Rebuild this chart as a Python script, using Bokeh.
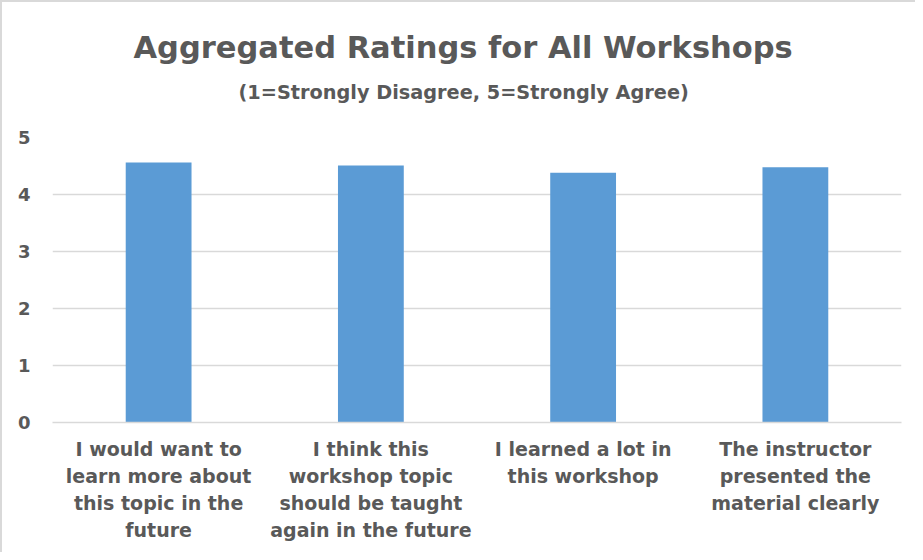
from bokeh.plotting import figure
from bokeh.models import ColumnDataSource, FactorRange, Title, FixedTicker
from bokeh.embed import file_html
from bokeh.resources import INLINE

categories = [
    "I would want to\nlearn more about\nthis topic in the\nfuture",
    "I think this\nworkshop topic\nshould be taught\nagain in the future",
    "I learned a lot in\nthis workshop",
    "The instructor\npresented the\nmaterial clearly",
]
ratings = [4.56, 4.51, 4.38, 4.48]
y_ticks = [0, 1, 2, 3, 4, 5]

title_text = "Aggregated Ratings for All Workshops"
subtitle_text = "(1=Strongly Disagree, 5=Strongly Agree)"

TXT = "#595959"
FONT = "DejaVu Sans"

src = ColumnDataSource(dict(cat=categories, val=ratings))

p = figure(
    width=915, height=552,
    x_range=FactorRange(*categories, range_padding=0, factor_padding=0),
    y_range=(0, 5),
    output_backend="svg", toolbar_location=None,
    min_border_left=50, min_border_right=16,
    min_border_top=135, min_border_bottom=132,
)
p.title = None
p.vbar(x="cat", top="val", width=0.31, source=src, color="#5B9BD5", line_color=None)

p.outline_line_color = None
p.xgrid.grid_line_color = None
p.ygrid.grid_line_color = "#D9D9D9"
p.ygrid.grid_line_width = 1.3
p.yaxis.ticker = FixedTicker(ticks=y_ticks)
p.yaxis.axis_line_color = None
p.yaxis.major_tick_line_color = None
p.yaxis.minor_tick_line_color = None
p.yaxis.major_label_standoff = 16
p.yaxis.major_label_text_font = FONT
p.yaxis.major_label_text_font_style = "bold"
p.yaxis.major_label_text_font_size = "18px"
p.yaxis.major_label_text_color = TXT

p.xaxis.axis_line_color = "#D9D9D9"
p.xaxis.axis_line_width = 1.3
p.xaxis.major_tick_line_color = None
p.xaxis.minor_tick_line_color = None
p.xaxis.major_label_standoff = 9
p.xaxis.major_label_text_font = FONT
p.xaxis.major_label_text_font_style = "bold"
p.xaxis.major_label_text_font_size = "19px"
p.xaxis.major_label_text_color = TXT
p.xaxis.major_label_text_line_height = 1.24

# spacer between the plot area and the subtitle
p.add_layout(Title(text=" ", standoff=31, text_font_size="1px", text_color="white"), "above")
p.add_layout(Title(text=subtitle_text, align="left", offset=186, standoff=0,
                   text_font=FONT, text_font_style="bold", text_font_size="19.3px", text_color=TXT), "above")
p.add_layout(Title(text=title_text, align="left", offset=81, standoff=27,
                   text_font=FONT, text_font_style="bold", text_font_size="30.5px", text_color=TXT), "above")

p.styles = {"border-left": "2px solid #D9D9D9", "border-top": "2px solid #D9D9D9",
            "box-sizing": "border-box"}

open("out.html", "w").write(file_html(p, INLINE))
